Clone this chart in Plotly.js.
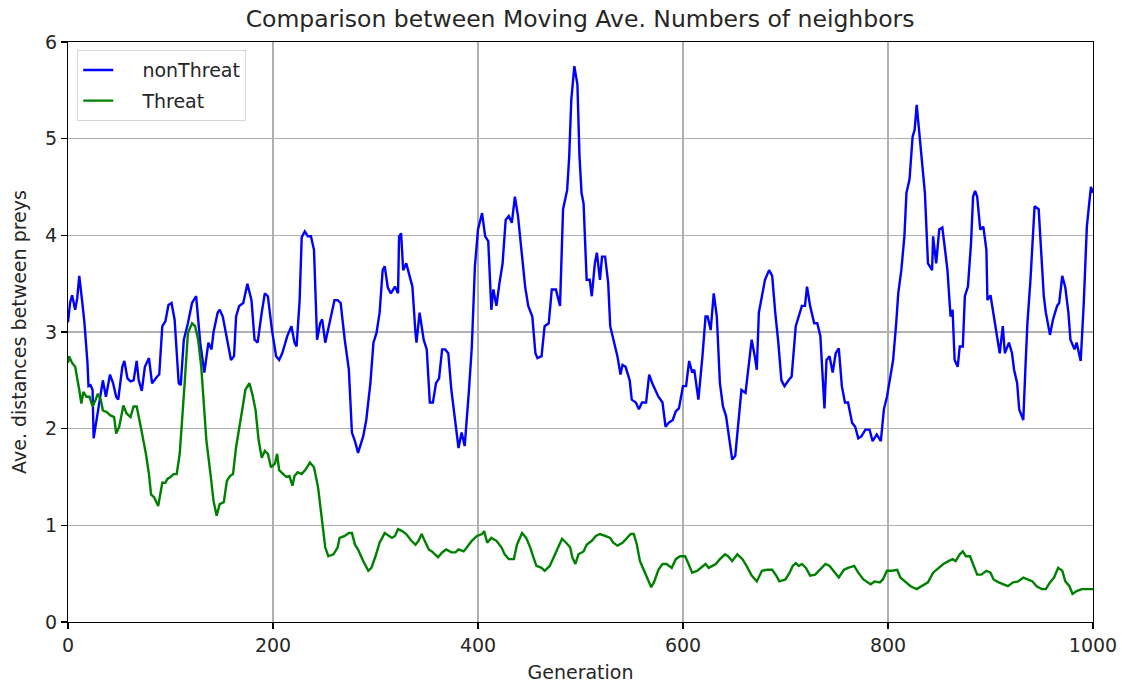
<!DOCTYPE html>
<html>
<head>
<meta charset="utf-8">
<script src="https://cdn.plot.ly/plotly-3.0.1.min.js"></script>
<style>html,body{margin:0;padding:0;background:#fff;}#chart{width:1122px;height:684px;}</style>
</head>
<body>
<div id="chart"></div>
<script>
const nonThreatGen = [0,2,4,7,9,11,14,16,19,20,22,24,25,28,31,34,37,41,44,47,49,53,55,58,61,64,67,69,72,75,79,82,87,89,92,95,98,101,104,108,110,113,117,121,125,129,133,137,140,142,146,148,151,156,159,162,164,167,171,175,179,182,185,189,192,195,199,203,206,209,214,218,221,223,226,228,231,234,237,240,243,246,248,251,255,257,260,263,266,270,274,277,280,283,288,291,295,298,301,304,307,309,312,315,319,322,323,325,327,330,334,336,339,340,343,347,350,353,356,359,362,365,368,371,374,378,381,384,387,391,394,397,400,404,407,410,413,415,418,421,424,427,430,433,436,439,443,446,449,453,456,458,462,465,469,472,476,480,483,487,489,491,494,497,499,501,503,506,509,511,514,516,519,521,524,527,529,532,536,539,541,544,548,550,554,557,560,564,567,570,574,576,580,583,586,590,593,596,600,603,606,609,611,615,619,622,624,627,630,633,636,639,642,645,648,651,654,657,661,664,667,670,672,674,677,680,684,687,690,693,696,699,703,706,710,713,716,719,721,724,728,731,734,738,740,743,746,749,752,755,758,761,765,768,771,774,778,782,785,789,793,796,799,802,805,808,810,813,816,818,821,824,826,828,831,834,836,839,843,844,847,850,853,856,858,861,863,865,868,870,873,875,878,881,883,885,887,890,893,896,897,900,904,906,909,912,914,918,921,923,926,928,932,934,936,939,941,943,947,949,952,954,958,961,965,967,970,973,976,978,982,984,986,988,991,994,996,998,1000];
const nonThreatVal = [3.1,3.3,3.38,3.23,3.35,3.58,3.3,3.1,2.68,2.44,2.45,2.4,1.9,2.09,2.3,2.5,2.33,2.56,2.47,2.33,2.3,2.64,2.7,2.52,2.49,2.5,2.7,2.5,2.39,2.64,2.73,2.47,2.54,2.56,3.06,3.11,3.28,3.3,3.13,2.47,2.45,2.92,3.09,3.3,3.37,2.89,2.58,2.89,2.82,3.0,3.2,3.23,3.16,2.89,2.71,2.75,3.16,3.27,3.3,3.5,3.33,2.92,2.89,3.2,3.4,3.37,3.02,2.75,2.71,2.78,2.96,3.06,2.89,2.85,3.33,3.98,4.04,3.99,3.99,3.85,2.92,3.09,3.13,2.89,3.09,3.16,3.33,3.33,3.3,2.92,2.61,1.96,1.87,1.75,1.92,2.09,2.47,2.89,2.99,3.2,3.64,3.68,3.46,3.4,3.47,3.4,3.99,4.02,3.64,3.71,3.54,3.47,2.99,2.89,3.2,2.92,2.82,2.27,2.27,2.47,2.52,2.82,2.82,2.78,2.4,2.09,1.8,1.96,1.82,2.37,2.85,3.68,4.06,4.23,3.99,3.94,3.23,3.44,3.27,3.51,3.71,4.16,4.2,4.13,4.4,4.2,3.75,3.47,3.27,3.16,2.78,2.73,2.75,3.06,3.09,3.44,3.44,3.27,4.27,4.47,4.82,5.4,5.75,5.56,4.82,4.44,4.33,3.54,3.54,3.37,3.71,3.82,3.54,3.78,3.78,3.51,3.06,2.92,2.75,2.56,2.66,2.64,2.5,2.3,2.27,2.2,2.27,2.27,2.56,2.47,2.37,2.33,2.27,2.02,2.06,2.09,2.18,2.21,2.44,2.44,2.7,2.58,2.61,2.3,2.75,3.16,3.16,3.02,3.4,3.16,2.47,2.23,2.13,1.89,1.68,1.72,2.09,2.4,2.37,2.68,2.92,2.75,2.61,3.2,3.37,3.54,3.64,3.58,3.2,2.89,2.5,2.44,2.5,2.54,3.06,3.16,3.27,3.27,3.47,3.27,3.09,3.09,2.96,2.21,2.71,2.75,2.58,2.78,2.83,2.44,2.27,2.27,2.06,2.02,1.9,1.92,1.99,1.99,1.87,1.94,1.87,2.2,2.33,2.52,2.71,3.09,3.4,3.64,3.99,4.44,4.58,5.02,5.09,5.35,5.02,4.71,4.44,3.71,3.64,3.99,3.71,4.06,4.08,3.82,3.64,3.16,3.23,2.71,2.64,2.85,2.85,3.37,3.47,3.92,4.4,4.46,4.4,4.06,4.09,3.85,3.33,3.38,3.09,2.99,2.78,3.06,2.78,2.89,2.78,2.61,2.47,2.2,2.09,2.61,3.09,3.54,3.99,4.3,4.27,3.92,3.37,3.2,2.97,3.13,3.27,3.3,3.58,3.46,3.2,2.92,2.82,2.89,2.78,2.7,3.3,4.09,4.3,4.5,4.44];
const threatGen = [0,1,4,7,11,13,15,18,21,24,27,29,32,34,38,41,45,47,50,54,57,61,64,67,71,73,76,79,81,84,88,92,95,97,100,103,106,109,112,114,117,121,124,127,130,133,135,139,142,145,148,152,155,158,161,164,168,171,173,177,180,183,186,189,192,195,198,202,204,206,210,213,216,219,221,224,228,232,236,240,244,247,250,251,254,259,263,265,270,274,277,280,283,288,293,296,300,304,309,313,316,319,322,326,330,335,339,342,345,348,352,355,361,365,369,374,378,381,386,389,394,399,404,406,409,413,418,423,426,430,435,438,443,447,451,454,457,462,465,470,475,479,482,486,490,492,495,498,503,506,511,515,519,524,529,532,536,541,545,549,552,555,558,562,565,569,572,576,580,584,589,593,597,602,605,609,614,619,622,625,632,636,641,644,648,653,658,662,667,672,677,682,687,691,694,700,704,707,710,713,716,720,724,729,734,739,743,747,752,757,761,767,771,776,783,787,792,795,799,804,809,812,817,822,828,833,839,844,849,854,859,863,866,870,873,876,880,883,887,891,896,900,903,908,913,917,922,927,932,937,941,945,950,954,958,962,966,970,973,977,980,984,989,1000];
const threatVal = [2.68,2.75,2.68,2.64,2.4,2.26,2.38,2.33,2.33,2.23,2.3,2.36,2.3,2.19,2.17,2.14,2.12,1.95,2.02,2.24,2.16,2.12,2.23,2.23,2.02,1.91,1.74,1.53,1.32,1.29,1.2,1.44,1.44,1.48,1.5,1.53,1.53,1.74,2.16,2.5,2.99,3.09,3.06,2.92,2.64,2.23,1.88,1.53,1.25,1.1,1.22,1.24,1.46,1.51,1.53,1.81,2.05,2.26,2.4,2.47,2.35,2.19,1.88,1.7,1.77,1.74,1.6,1.64,1.74,1.57,1.53,1.5,1.51,1.41,1.51,1.55,1.53,1.58,1.65,1.6,1.39,1.11,0.85,0.77,0.68,0.7,0.77,0.87,0.89,0.92,0.92,0.8,0.75,0.63,0.53,0.56,0.68,0.82,0.92,0.89,0.87,0.89,0.96,0.94,0.91,0.84,0.8,0.84,0.91,0.84,0.75,0.73,0.67,0.72,0.75,0.72,0.72,0.75,0.73,0.77,0.84,0.89,0.91,0.94,0.82,0.87,0.84,0.77,0.7,0.65,0.65,0.8,0.92,0.87,0.77,0.67,0.58,0.56,0.53,0.58,0.7,0.8,0.86,0.82,0.77,0.67,0.6,0.7,0.73,0.8,0.84,0.89,0.91,0.89,0.87,0.82,0.79,0.82,0.86,0.91,0.91,0.8,0.63,0.53,0.44,0.36,0.42,0.54,0.6,0.6,0.56,0.65,0.68,0.68,0.61,0.51,0.53,0.58,0.6,0.56,0.6,0.65,0.7,0.68,0.63,0.7,0.65,0.58,0.48,0.42,0.53,0.54,0.54,0.48,0.42,0.44,0.51,0.58,0.61,0.58,0.6,0.56,0.48,0.49,0.54,0.6,0.58,0.53,0.46,0.54,0.56,0.58,0.51,0.44,0.39,0.42,0.41,0.44,0.53,0.53,0.54,0.46,0.41,0.37,0.34,0.37,0.41,0.51,0.56,0.6,0.63,0.65,0.63,0.7,0.73,0.68,0.68,0.6,0.49,0.49,0.53,0.51,0.44,0.41,0.39,0.37,0.41,0.42,0.46,0.44,0.42,0.37,0.34,0.34,0.41,0.46,0.56,0.53,0.42,0.37,0.29,0.32,0.34,0.34];
const seriesNames = ['nonThreat', 'Threat'];
const xTicks = [0,200,400,600,800,1000];
const yTicks = [0,1,2,3,4,5,6];

const FONT = 'DejaVu Sans, sans-serif';
const TXT = '#262626';
const PAD = '\u00a0\u00a0\u00a0\u00a0';
const traces = [
  {x: nonThreatGen, y: nonThreatVal, type: 'scatter', mode: 'lines', name: PAD + seriesNames[0],
   legendgroup: 'a', line: {color: '#0000ff', width: 2.4}},
  {x: threatGen, y: threatVal, type: 'scatter', mode: 'lines', name: PAD + seriesNames[1],
   legendgroup: 'b', line: {color: '#008000', width: 2.4}}
];
const axisCommon = {
  showgrid: true, gridcolor: '#b0b0b0', gridwidth: 1.1,
  showline: true, linecolor: '#000', linewidth: 1.2, mirror: true,
  ticks: 'outside', ticklen: 6, tickcolor: '#000', tickwidth: 1.2,
  zeroline: false, tickfont: {family: FONT, size: 19, color: TXT}
};
const layout = {
  width: 1122, height: 684,
  margin: {l: 68, r: 29, t: 42, b: 62},
  paper_bgcolor: '#fff', plot_bgcolor: '#fff',
  font: {family: FONT, color: TXT},
  title: {text: 'Comparison between Moving Ave. Numbers of neighbors',
          font: {family: FONT, size: 23.5, color: TXT},
          x: 0.517, xref: 'container', xanchor: 'center', y: 0.972, yref: 'container', yanchor: 'middle'},
  xaxis: Object.assign({}, axisCommon, {range: [0, 1000], tickvals: xTicks, ticktext: xTicks.map(String),
          title: {text: 'Generation', font: {family: FONT, size: 19, color: TXT}, standoff: 10}}),
  yaxis: Object.assign({}, axisCommon, {range: [0, 6], tickvals: yTicks, ticktext: yTicks.map(String),
          title: {text: 'Ave. distances between preys', font: {family: FONT, size: 19, color: TXT}, standoff: 13}}),
  showlegend: true,
  legend: {x: 0.009, y: 0.986, xanchor: 'left', yanchor: 'top',
           traceorder: 'grouped', tracegroupgap: 3,
           bgcolor: 'rgba(255,255,255,0.8)', bordercolor: '#d6d6d6', borderwidth: 1,
           font: {family: FONT, size: 19, color: TXT}}
};
Plotly.newPlot('chart', traces, layout, {displayModeBar: false, staticPlot: true});
</script>
</body>
</html>
